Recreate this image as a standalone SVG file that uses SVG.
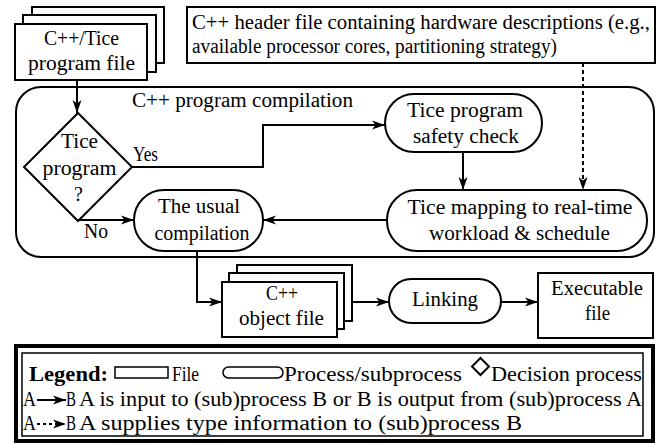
<svg xmlns="http://www.w3.org/2000/svg" width="662" height="444" viewBox="0 0 662 444">
<style>
text { font-family: "Liberation Serif", "Times New Roman", serif; font-size: 20px; fill: #000; }
.c { text-anchor: middle; }
.b { font-weight: bold; }
.shape { fill: #fff; stroke: #000; stroke-width: 2; }
.edge { fill: none; stroke: #000; stroke-width: 2; }
.dash { stroke-dasharray: 4 3; }
</style>
<defs>
<marker id="ah" markerUnits="userSpaceOnUse" markerWidth="14" markerHeight="10" refX="13" refY="5" orient="auto">
<path d="M0,0.5 L13,5 L0,9.5 L3.5,5 Z" fill="#000"/>
</marker>
</defs>
<rect width="662" height="444" fill="#fff"/>

<g id="container">
<rect class="shape" x="16" y="87" width="638" height="170" rx="25"/>
<text x="132" y="107" textLength="221" lengthAdjust="spacingAndGlyphs">C++ program compilation</text>
</g>

<g id="source-file">
<rect class="shape" x="32" y="7" width="132" height="56"/>
<rect class="shape" x="23" y="15" width="133" height="57"/>
<rect class="shape" x="15" y="24" width="132" height="56"/>
<text class="c" x="81.5" y="45" textLength="75" lengthAdjust="spacingAndGlyphs">C++/Tice</text>
<text class="c" x="81.5" y="70" textLength="107" lengthAdjust="spacingAndGlyphs">program file</text>
</g>

<g id="header-file">
<rect class="shape" x="187" y="7" width="468" height="56"/>
<text x="192" y="29" textLength="458" lengthAdjust="spacingAndGlyphs">C++ header file containing hardware descriptions (e.g.,</text>
<text x="192" y="53" textLength="365" lengthAdjust="spacingAndGlyphs">available processor cores, partitioning strategy)</text>
</g>

<g id="decision">
<polygon class="shape" points="78,113 132,167 78,221 24,167"/>
<text class="c" x="79.5" y="148" textLength="37" lengthAdjust="spacingAndGlyphs">Tice</text>
<text class="c" x="79.5" y="175" textLength="74" lengthAdjust="spacingAndGlyphs">program</text>
<text class="c" x="78.5" y="201">?</text>
</g>

<g id="safety-check">
<rect class="shape" x="385" y="94" width="157" height="58" rx="29"/>
<text class="c" x="465" y="117" textLength="116" lengthAdjust="spacingAndGlyphs">Tice program</text>
<text class="c" x="466" y="143" textLength="106" lengthAdjust="spacingAndGlyphs">safety check</text>
</g>

<g id="tice-mapping">
<rect class="shape" x="387" y="190" width="260" height="61" rx="30"/>
<text class="c" x="520" y="214" textLength="225" lengthAdjust="spacingAndGlyphs">Tice mapping to real-time</text>
<text class="c" x="519.5" y="240" textLength="181" lengthAdjust="spacingAndGlyphs">workload &amp; schedule</text>
</g>

<g id="usual-compilation">
<rect class="shape" x="134" y="190" width="129" height="61" rx="30"/>
<text class="c" x="199" y="213" textLength="82" lengthAdjust="spacingAndGlyphs">The usual</text>
<text class="c" x="202" y="240" textLength="95" lengthAdjust="spacingAndGlyphs">compilation</text>
</g>

<g id="object-file">
<rect class="shape" x="237" y="265" width="115" height="56"/>
<rect class="shape" x="229" y="273" width="115" height="56"/>
<rect class="shape" x="222" y="282" width="115" height="55"/>
<text class="c" x="282" y="300" textLength="32" lengthAdjust="spacingAndGlyphs">C++</text>
<text class="c" x="281.5" y="325" textLength="85" lengthAdjust="spacingAndGlyphs">object file</text>
</g>

<g id="linking">
<rect class="shape" x="389" y="279" width="112" height="44" rx="22"/>
<text class="c" x="445" y="306" textLength="66" lengthAdjust="spacingAndGlyphs">Linking</text>
</g>

<g id="executable">
<rect class="shape" x="538" y="273" width="115" height="65"/>
<text class="c" x="597" y="295" textLength="92" lengthAdjust="spacingAndGlyphs">Executable</text>
<text class="c" x="597.5" y="320" textLength="25" lengthAdjust="spacingAndGlyphs">file</text>
</g>

<g id="connectors">
<path class="edge" d="M77,80 V113" marker-end="url(#ah)"/>
<path class="edge" d="M132,167 H263 V125 H385" marker-end="url(#ah)"/>
<path class="edge" d="M463,152 V190" marker-end="url(#ah)"/>
<path class="edge dash" d="M583,63 V190" marker-end="url(#ah)"/>
<path class="edge" d="M387,220 H263" marker-end="url(#ah)"/>
<path class="edge" d="M78,220 H134" marker-end="url(#ah)"/>
<path class="edge" d="M197,251 V302 H222" marker-end="url(#ah)"/>
<path class="edge" d="M352,302 H389" marker-end="url(#ah)"/>
<path class="edge" d="M501,302 H538" marker-end="url(#ah)"/>
<text x="133" y="161" textLength="25" lengthAdjust="spacingAndGlyphs">Yes</text>
<text x="84" y="238" textLength="24" lengthAdjust="spacingAndGlyphs">No</text>
</g>

<g id="legend">
<rect x="16" y="346" width="637" height="95" fill="#fff" stroke="#000" stroke-width="4"/>
<rect x="22" y="353" width="621" height="83" fill="none" stroke="#000" stroke-width="1.5"/>
<text class="b" x="29" y="381" textLength="79" lengthAdjust="spacingAndGlyphs">Legend:</text>
<rect x="115" y="367" width="53" height="11" fill="#fff" stroke="#000" stroke-width="1.5"/>
<text x="172" y="381" textLength="27" lengthAdjust="spacingAndGlyphs">File</text>
<rect x="223" y="367" width="60" height="11" rx="5.5" fill="#fff" stroke="#000" stroke-width="1.5"/>
<text x="284" y="381" textLength="178" lengthAdjust="spacingAndGlyphs">Process/subprocess</text>
<polygon points="480.5,358 489,366.5 480.5,375 472,366.5" fill="#fff" stroke="#000" stroke-width="2"/>
<text x="491" y="381" textLength="151" lengthAdjust="spacingAndGlyphs">Decision process</text>
<text x="23" y="406" textLength="13" lengthAdjust="spacingAndGlyphs">A</text>
<path class="edge" d="M37,400 H66" marker-end="url(#ah)"/>
<text x="66" y="406" textLength="10" lengthAdjust="spacingAndGlyphs">B</text>
<text x="79" y="406" textLength="563" lengthAdjust="spacingAndGlyphs">A is input to (sub)process B or B is output from (sub)process A</text>
<text x="23" y="430" textLength="13" lengthAdjust="spacingAndGlyphs">A</text>
<path class="edge" d="M37,424 H66" stroke-dasharray="3 3" marker-end="url(#ah)"/>
<text x="66" y="430" textLength="10" lengthAdjust="spacingAndGlyphs">B</text>
<text x="79" y="430" textLength="443" lengthAdjust="spacingAndGlyphs">A supplies type information to (sub)process B</text>
</g>
</svg>
